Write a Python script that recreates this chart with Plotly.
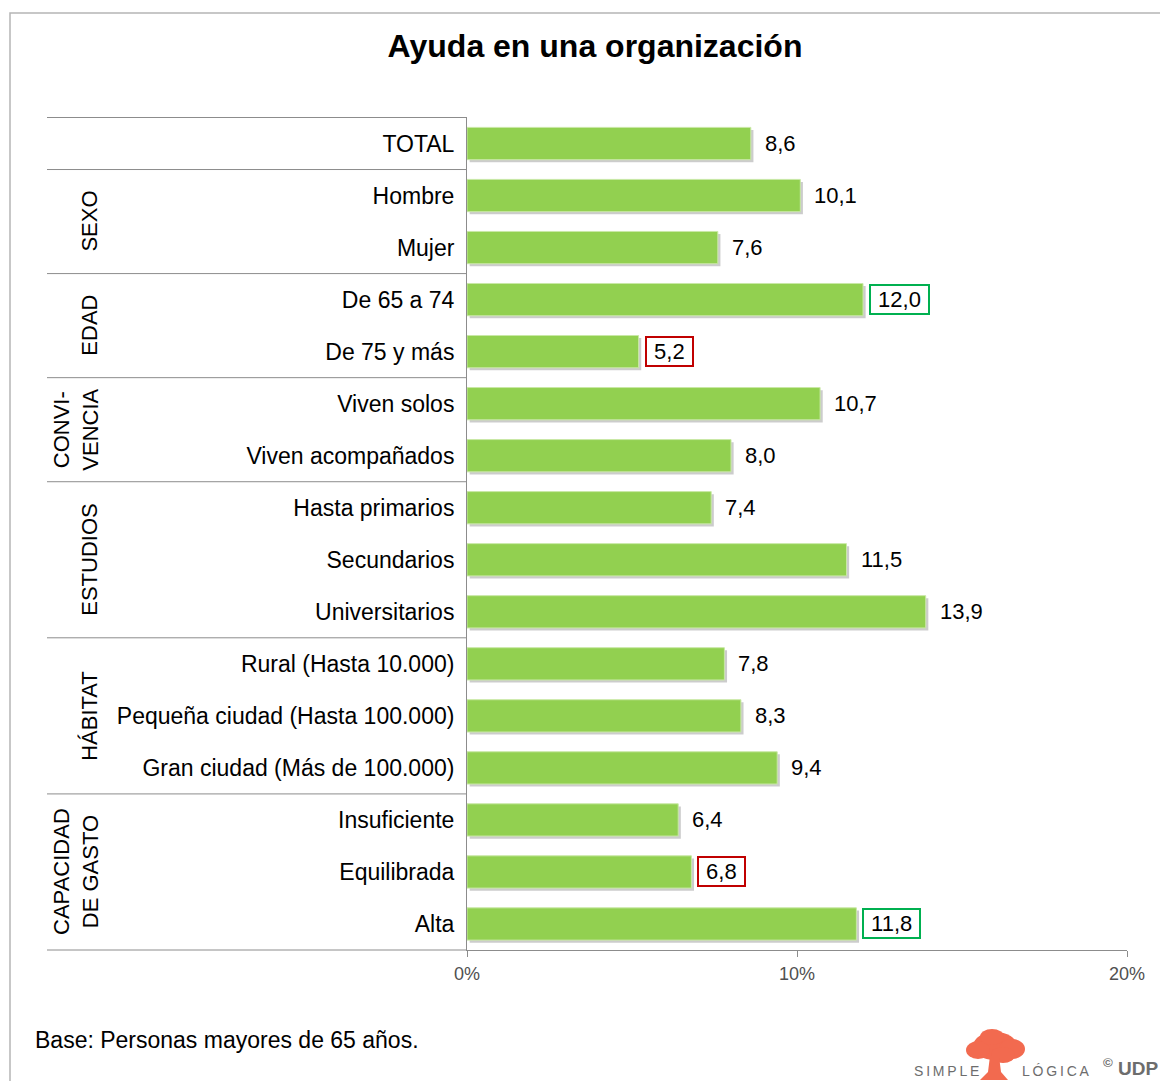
import plotly.graph_objects as go

# ---------------- data ----------------
categories = [
    "TOTAL", "Hombre", "Mujer", "De 65 a 74", "De 75 y más",
    "Viven solos", "Viven acompañados", "Hasta primarios", "Secundarios",
    "Universitarios", "Rural (Hasta 10.000)", "Pequeña ciudad (Hasta 100.000)",
    "Gran ciudad (Más de 100.000)", "Insuficiente", "Equilibrada", "Alta",
]
values = [8.6, 10.1, 7.6, 12.0, 5.2, 10.7, 8.0, 7.4, 11.5, 13.9, 7.8, 8.3, 9.4, 6.4, 6.8, 11.8]
highlight = ["", "", "", "high", "low", "", "", "", "", "", "", "", "", "", "low", "high"]

group_names = ["SEXO", "EDAD", "CONVI-<br>VENCIA", "ESTUDIOS", "HÁBITAT", "CAPACIDAD<br>DE GASTO"]
group_first = [1, 3, 5, 7, 10, 13]
group_last = [2, 4, 6, 9, 12, 15]

x_ticks = [0, 10, 20]
x_tick_labels = ["0%", "10%", "20%"]

title_text = "Ayuda en una organización"
footnote = "Base: Personas mayores de 65 años."

# ---------------- layout helpers ----------------
OFF = 8  # page body margin
W, H = 1160, 1073
L, R, T, B = 459, 41, 109, 131
PW, PH = W - L - R, H - T - B


def px(xs):
    """screen x -> paper x"""
    return (xs - OFF - L) / PW


def py(ys):
    """screen y -> paper y"""
    return (H - B - (ys - OFF)) / PH


FONT = "Liberation Sans, Arial, sans-serif"
GREEN = "#92D050"
AX = "#8c8c8c"
NB = "\u00a0"

fig = go.Figure()

# soft shadow behind bars
fig.add_trace(go.Bar(
    x=values, y=categories, orientation="h", base=0.08,
    width=0.62, offset=-0.26,
    marker=dict(color="rgba(0,0,0,0.2)", line=dict(width=0)),
    hoverinfo="skip", showlegend=False,
))
fig.add_trace(go.Bar(
    x=values, y=categories, orientation="h",
    width=0.62, offset=-0.31,
    marker=dict(color=GREEN, line=dict(color="#c9e8a6", width=1)),
    showlegend=False,
))

annotations = []
for c, v, h in zip(categories, values, highlight):
    label = f"{v:.1f}".replace(".", ",")
    if h:
        col = "#00B050" if h == "high" else "#C00000"
        annotations.append(dict(
            x=v, y=c, xref="x", yref="y", text=NB + label + NB, showarrow=False,
            xanchor="left", xshift=6, bordercolor=col, borderwidth=2, borderpad=1,
            font=dict(family=FONT, size=22, color="#000000"),
        ))
    else:
        annotations.append(dict(
            x=v, y=c, xref="x", yref="y", text=label, showarrow=False,
            xanchor="left", xshift=12,
            font=dict(family=FONT, size=22, color="#000000"),
        ))

# group labels
for name, a, b in zip(group_names, group_first, group_last):
    two = "<br>" in name
    annotations.append(dict(
        x=px(76 if two else 90), y=(a + b) / 2, xref="paper", yref="y",
        text=name, textangle=-90, showarrow=False, xanchor="center", yanchor="middle",
        font=dict(family=FONT, size=22, color="#000000"),
    ))

# footnote
annotations.append(dict(
    x=px(33), y=py(1040), xref="paper", yref="paper", text=footnote,
    showarrow=False, xanchor="left", yanchor="middle",
    font=dict(family=FONT, size=23, color="#000000"),
))

# logo texts
annotations.append(dict(
    x=px(946), y=py(1071), xref="paper", yref="paper",
    text="S\u2009I\u2009M\u2009P\u2009L\u2009E", showarrow=False,
    xanchor="center", yanchor="middle", font=dict(family=FONT, size=14, color="#6d6d6d"),
))
annotations.append(dict(
    x=px(1056), y=py(1071), xref="paper", yref="paper",
    text="L\u2009Ó\u2009G\u2009I\u2009C\u2009A", showarrow=False,
    xanchor="center", yanchor="middle", font=dict(family=FONT, size=14, color="#6d6d6d"),
))
annotations.append(dict(
    x=px(1131), y=py(1067), xref="paper", yref="paper",
    text="<b><sup>©</sup> UDP</b>", showarrow=False,
    xanchor="center", yanchor="middle", font=dict(family=FONT, size=19, color="#6d6d6d"),
))

shapes = []
# outer frame
shapes.append(dict(type="rect", xref="paper", yref="paper",
                   x0=px(10), x1=px(1190), y0=py(1100), y1=py(13),
                   line=dict(color="#b5b5b5", width=1.5), layer="below"))
# group separators
for yv in [-0.5, 0.5, 2.5, 4.5, 6.5, 9.5, 12.5]:
    shapes.append(dict(type="line", xref="paper", yref="y",
                       x0=px(47), x1=0, y0=yv, y1=yv,
                       line=dict(color=AX, width=1)))
shapes.append(dict(type="line", xref="paper", yref="paper",
                   x0=px(47), x1=0, y0=0, y1=0, line=dict(color=AX, width=1)))

# tree logo (decorative)
TREE = "#F26A4F"
for cx, cy, rx, ry in [(995, 1046, 22, 14), (978, 1050, 12, 9), (1012, 1049, 13, 10),
                       (992, 1037, 12, 8), (1003, 1055, 12, 8)]:
    shapes.append(dict(type="circle", xref="paper", yref="paper",
                       x0=px(cx - rx), x1=px(cx + rx), y0=py(cy + ry), y1=py(cy - ry),
                       fillcolor=TREE, line=dict(width=0)))
trunk = (f"M {px(990)},{py(1056)} L {px(999)},{py(1056)} L {px(1001)},{py(1072)} "
         f"L {px(1008)},{py(1080)} L {px(980)},{py(1080)} L {px(988)},{py(1072)} Z")
shapes.append(dict(type="path", xref="paper", yref="paper", path=trunk,
                   fillcolor=TREE, line=dict(width=0)))

fig.update_layout(
    width=W, height=H,
    margin=dict(l=L, r=R, t=T, b=B, autoexpand=False),
    paper_bgcolor="white", plot_bgcolor="white",
    barmode="overlay", bargap=0.38,
    title=dict(text=f"<b>{title_text}</b>", x=(595 - OFF) / W, xanchor="center",
               xref="container", y=1 - (46 - OFF) / H, yanchor="middle", yref="container",
               font=dict(family=FONT, size=32, color="#000000")),
    xaxis=dict(range=[0, 20], tickvals=x_ticks, ticktext=x_tick_labels,
               showgrid=False, zeroline=False, showline=True, linecolor=AX, linewidth=1,
               ticks="outside", ticklen=6, tickcolor=AX, ticklabelstandoff=1,
               tickfont=dict(family=FONT, size=18, color="#505050"), fixedrange=True),
    yaxis=dict(categoryorder="array", categoryarray=categories, autorange="reversed",
               showgrid=False, zeroline=False, showline=True, linecolor=AX, linewidth=1,
               ticks="", ticklabelstandoff=7,
               tickfont=dict(family=FONT, size=23, color="#000000"), fixedrange=True),
    annotations=annotations, shapes=shapes,
)

fig.write_html("out.html")
